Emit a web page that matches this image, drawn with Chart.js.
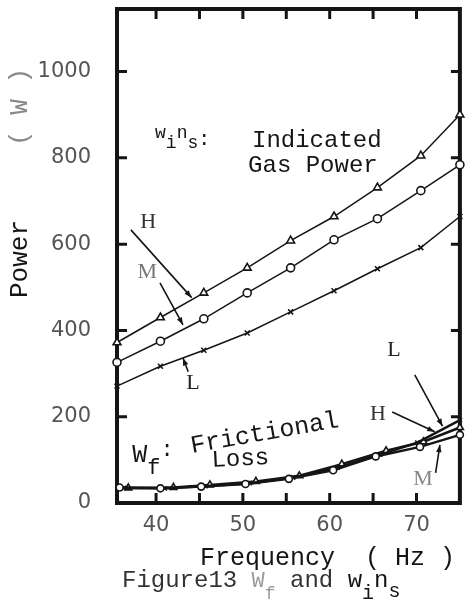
<!DOCTYPE html>
<html>
<head>
<meta charset="utf-8">
<script src="https://cdn.jsdelivr.net/npm/chart.js@4.4.0/dist/chart.umd.min.js"></script>
<style>
    html, body { margin: 0; padding: 0; background: #fff; }
    #wrap { position: relative; width: 466px; height: 608px; }
</style>
</head>
<body>
<div id="wrap"><canvas id="chart" width="466" height="608"></canvas></div>
<script>
// Indicated gas power w_i n_s (W) against frequency (Hz)
const freqIndicated = [35.5, 40.5, 45.5, 50.5, 55.5, 60.5, 65.5, 70.5, 75];
const indicatedH = [372, 430, 487, 545, 608, 664, 731, 805, 900];
const indicatedM = [326, 375, 427, 487, 545, 610, 659, 724, 784];
const indicatedL = [271, 317, 354, 394, 443, 492, 543, 592, 664];

// Frictional loss W_f (W); the three runs were logged at slightly shifted frequencies
const freqLossM = [35.8, 40.5, 45.2, 50.3, 55.3, 60.4, 65.3, 70.4, 75];
const freqLossL = [36.3, 41.0, 45.7, 50.8, 55.8, 60.9, 65.8, 70.1, 75];
const freqLossH = [36.8, 42.0, 46.2, 51.5, 56.5, 61.4, 66.5, 70.8, 75];
const lossM = [36, 34, 38, 44, 56, 76, 108, 130, 158];
const lossL = [35, 34, 39, 46, 59, 82, 112, 140, 192];
const lossH = [35, 36, 42, 50, 63, 90, 121, 142, 175];

// Axis ticks
const xTickLabels = [40, 50, 60, 70];
const xTickMarks = [40, 45, 50, 55, 60, 65, 70];
const yTickLabels = [0, 200, 400, 600, 800, 1000];

const MONO = '"Liberation Mono", "DejaVu Sans Mono", monospace';
const SERIF = '"Liberation Serif", "DejaVu Serif", serif';
const INK = '#151515';

const toPoints = (xs, ys) => xs.map((x, i) => ({ x: x, y: ys[i] }));

function series(label, xs, ys, style, radius, lineWidth) {
    return {
        label: label,
        data: toPoints(xs, ys),
        borderColor: INK,
        borderWidth: lineWidth,
        pointStyle: style,
        pointRadius: radius,
        pointBorderColor: INK,
        pointBackgroundColor: '#fff',
        pointBorderWidth: 1.6,
        tension: 0,
        fill: false
    };
}

// Labels and leader arrows inside the plot, placed in data units (Hz, W)
const curveLabels = [
    { text: 'H', x: 39.1, y: 650, color: '#333' },
    { text: 'M', x: 39.0, y: 534, color: '#777' },
    { text: 'L', x: 44.25, y: 278, color: '#222' },
    { text: 'H', x: 65.55, y: 206, color: '#333' },
    { text: 'L', x: 67.4, y: 355, color: '#222' },
    { text: 'M', x: 70.75, y: 56, color: '#888' }
];
const leaders = [
    { from: [37.1, 633], to: [44.1, 476] },
    { from: [40.45, 510], to: [43.1, 413] },
    { from: [43.7, 304], to: [43.1, 336] },
    { from: [67.2, 211], to: [72.1, 165] },
    { from: [69.8, 297], to: [73.0, 178] },
    { from: [72.2, 70], to: [72.7, 135] }
];

function drawRuns(ctx, x, y, runs) {
    let cx = x;
    runs.forEach(r => {
        ctx.font = r.font;
        ctx.fillStyle = r.color || INK;
        ctx.fillText(r.t, cx, y + (r.dy || 0));
        cx += ctx.measureText(r.t).width + (r.gap || 0);
    });
}

const framePlugin = {
    id: 'frame',
    beforeDatasetsDraw(chart) {
        const { ctx, chartArea: a, scales } = chart;
        ctx.save();
        ctx.strokeStyle = INK;
        ctx.lineWidth = 3;
        ctx.beginPath();
        yTickLabels.forEach(v => {
            if (v === 0) return;
            const py = scales.y.getPixelForValue(v);
            ctx.moveTo(a.left, py); ctx.lineTo(a.left + 10, py);
            ctx.moveTo(a.right, py); ctx.lineTo(a.right - 9, py);
        });
        xTickMarks.forEach(v => {
            const px = scales.x.getPixelForValue(v);
            ctx.moveTo(px, a.bottom); ctx.lineTo(px, a.bottom - 10);
            ctx.moveTo(px, a.top); ctx.lineTo(px, a.top + 10);
        });
        ctx.stroke();
        ctx.lineWidth = 4;
        ctx.strokeRect(a.left, a.top, a.right - a.left, a.bottom - a.top);
        ctx.restore();
    }
};

const notesPlugin = {
    id: 'notes',
    afterDraw(chart) {
        const { ctx, scales } = chart;
        const X = v => scales.x.getPixelForValue(v);
        const Y = v => scales.y.getPixelForValue(v);
        ctx.save();

        // leader arrows
        ctx.strokeStyle = INK;
        ctx.fillStyle = INK;
        ctx.lineWidth = 1.6;
        leaders.forEach(l => {
            const x0 = X(l.from[0]), y0 = Y(l.from[1]);
            const x1 = X(l.to[0]), y1 = Y(l.to[1]);
            const ang = Math.atan2(y1 - y0, x1 - x0);
            ctx.beginPath();
            ctx.moveTo(x0, y0); ctx.lineTo(x1, y1);
            ctx.stroke();
            ctx.beginPath();
            ctx.moveTo(x1, y1);
            ctx.lineTo(x1 - 8 * Math.cos(ang - 0.35), y1 - 8 * Math.sin(ang - 0.35));
            ctx.lineTo(x1 - 8 * Math.cos(ang + 0.35), y1 - 8 * Math.sin(ang + 0.35));
            ctx.closePath();
            ctx.fill();
        });

        // curve letters
        ctx.textAlign = 'center';
        ctx.textBaseline = 'middle';
        ctx.font = '22px ' + SERIF;
        curveLabels.forEach(c => {
            ctx.fillStyle = c.color;
            ctx.fillText(c.text, X(c.x), Y(c.y));
        });

        // w_i n_s: Indicated Gas Power
        ctx.textAlign = 'left';
        ctx.textBaseline = 'alphabetic';
        const f18 = '18px ' + MONO;
        drawRuns(ctx, X(39.88), Y(845), [
            { t: 'w', font: f18 }, { t: 'i', font: f18, dy: 10 },
            { t: 'n', font: f18 }, { t: 's', font: f18, dy: 10 },
            { t: ':', font: '20px ' + MONO, dy: 7 }
        ]);
        ctx.font = '24px ' + MONO;
        ctx.fillStyle = INK;
        ctx.fillText('Indicated', X(51.05), Y(824));
        ctx.fillText('Gas Power', X(50.6), Y(768));

        // W_f: Frictional Loss
        drawRuns(ctx, X(37.25), Y(95), [
            { t: 'W', font: '25px ' + MONO },
            { t: 'f', font: '22px ' + MONO, dy: 12 },
            { t: ':', font: '22px ' + MONO, dy: -6 }
        ]);
        ctx.save();
        ctx.translate(X(44.14), Y(116));
        ctx.rotate(-10 * Math.PI / 180);
        ctx.font = '25px ' + MONO;
        ctx.fillStyle = INK;
        ctx.fillText('Frictional', 0, 0);
        ctx.restore();
        ctx.save();
        ctx.translate(X(46.44), Y(83.5));
        ctx.rotate(-3 * Math.PI / 180);
        ctx.font = '24px ' + MONO;
        ctx.fillStyle = INK;
        ctx.fillText('Loss', 0, 0);
        ctx.restore();

        // axis titles and caption (outside the plot)
        ctx.font = '25px ' + MONO;
        ctx.fillStyle = INK;
        ctx.fillText('Frequency  ( Hz )', 200, 565);

        ctx.save();
        ctx.translate(27, 298);
        ctx.rotate(-Math.PI / 2);
        ctx.font = '26px ' + MONO;
        ctx.fillStyle = INK;
        ctx.fillText('Power', 0, 0);
        ctx.fillStyle = '#888';
        ctx.fillText('( W )', 152, 0);
        ctx.restore();

        const f24 = '24px ' + MONO;
        drawRuns(ctx, 122, 587, [
            { t: 'Figure13 ', font: f24, color: '#333' },
            { t: 'W', font: '22px ' + MONO, color: '#999' },
            { t: 'f', font: '18px ' + MONO, color: '#999', dy: 12 },
            { t: ' and ', font: f24, color: '#333' },
            { t: 'w', font: f24 },
            { t: 'i', font: '20px ' + MONO, dy: 12 },
            { t: 'n', font: f24 },
            { t: 's', font: '20px ' + MONO, dy: 10 }
        ]);
        ctx.restore();
    }
};

new Chart(document.getElementById('chart').getContext('2d'), {
    type: 'line',
    data: {
        datasets: [
            series('H (w_i n_s)', freqIndicated, indicatedH, 'triangle', 4.5, 1.5),
            series('M (w_i n_s)', freqIndicated, indicatedM, 'circle', 4, 1.5),
            series('L (w_i n_s)', freqIndicated, indicatedL, 'crossRot', 3.5, 1.5),
            series('M (W_f)', freqLossM, lossM, 'circle', 3.5, 2.5),
            series('L (W_f)', freqLossL, lossL, 'crossRot', 3, 2.5),
            series('H (W_f)', freqLossH, lossH, 'triangle', 4, 2.5)
        ]
    },
    options: {
        responsive: false,
        animation: false,
        devicePixelRatio: 1,
        clip: false,
        layout: { padding: { top: 9, right: 6, left: 0, bottom: 0 } },
        plugins: {
            legend: { display: false },
            tooltip: { enabled: false },
            title: { display: false }
        },
        scales: {
            x: {
                type: 'linear',
                min: 35.5,
                max: 75,
                afterBuildTicks: s => { s.ticks = xTickLabels.map(v => ({ value: v })); },
                afterFit: s => { s.height = 105; s.paddingLeft = 0; s.paddingRight = 0; },
                grid: { display: false, drawTicks: false },
                border: { display: false },
                ticks: {
                    padding: 10,
                    maxRotation: 0,
                    autoSkip: false,
                    color: '#555',
                    font: { family: 'DejaVu Sans', size: 21 },
                    callback: v => String(v)
                }
            },
            y: {
                type: 'linear',
                min: 0,
                max: 1145,
                afterBuildTicks: s => { s.ticks = yTickLabels.map(v => ({ value: v })); },
                afterFit: s => { s.width = 117; s.paddingTop = 0; s.paddingBottom = 0; },
                grid: { display: false, drawTicks: false },
                border: { display: false },
                ticks: {
                    padding: 26,
                    color: '#555',
                    font: { family: 'DejaVu Sans', size: 21 },
                    callback: v => String(v)
                }
            }
        }
    },
    plugins: [framePlugin, notesPlugin]
});
</script>
</body>
</html>
